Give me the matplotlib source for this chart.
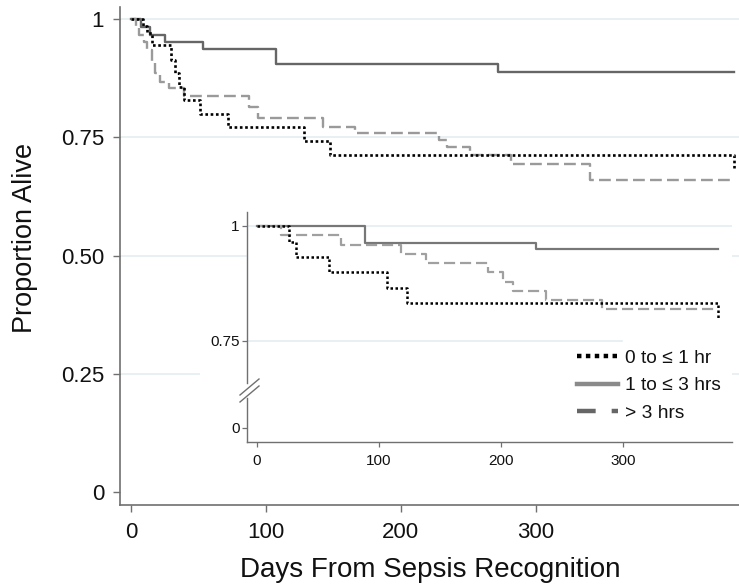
import matplotlib
matplotlib.use("Agg")
import matplotlib.pyplot as plt
from matplotlib.lines import Line2D
from matplotlib.patches import Rectangle
from matplotlib import font_manager as fm

# ---------------- data ----------------
series_labels = ["0 to \u2264 1 hr", "1 to \u2264 3 hrs", "> 3 hrs"]

# main chart: Kaplan-Meier steps (day of step, survival after step)
main_days_a = [0, 8.7, 11.7, 14.9, 29.5, 32.5, 35.6, 39.3, 50.9, 71.6, 127.8, 147.4, 447]
main_surv_a = [1, 0.985, 0.97, 0.945, 0.913, 0.885, 0.857, 0.829, 0.800, 0.771, 0.742, 0.713, 0.685]
main_days_b = [0, 7.4, 13.5, 24.6, 53.2, 107, 272, 447]
main_surv_b = [1, 0.983, 0.966, 0.951, 0.937, 0.905, 0.888, 0.888]
main_days_c = [0, 3.1, 5.6, 9.3, 11.7, 15.4, 17.8, 21.5, 27.6, 39.2, 86.9, 94.2, 142.5,
               165.7, 228, 234, 251.2, 281.7, 340.4, 447]
main_surv_c = [1, 0.985, 0.966, 0.951, 0.934, 0.91, 0.885, 0.867, 0.855, 0.837, 0.814, 0.791,
               0.772, 0.759, 0.744, 0.73, 0.712, 0.693, 0.66, 0.66]

# inset chart
ins_days_a = [0, 26.4, 32.4, 59.4, 107, 123.5, 378]
ins_surv_a = [1, 0.966, 0.932, 0.901, 0.865, 0.833, 0.80]
ins_days_b = [0, 88.9, 229, 378]
ins_surv_b = [1, 0.964, 0.949, 0.949]
ins_days_c = [0, 20.1, 69.3, 118.4, 139, 189.8, 202.1, 210.4, 237.3, 282.8, 378]
ins_surv_c = [1, 0.98, 0.959, 0.939, 0.919, 0.901, 0.879, 0.859, 0.839, 0.819, 0.819]

main_xticks = [0, 100, 200, 300]
main_yticks = [0, 0.25, 0.5, 0.75, 1]
main_yticklabels = ["0", "0.25", "0.50", "0.75", "1"]
ins_xticks = [0, 100, 200, 300]
ins_yticklabels = ["0", "0.75", "1"]

# ---------------- figure ----------------
W, H, DPI = 739, 588, 100
fx = lambda x: x / W
fy = lambda y: 1 - y / H

names = {f.name for f in fm.fontManager.ttflist}
MAIN_FONT = "Liberation Sans" if "Liberation Sans" in names else "DejaVu Sans"
NARROW = "Liberation Sans Narrow" if "Liberation Sans Narrow" in names else MAIN_FONT
plt.rcParams["font.family"] = [MAIN_FONT, "DejaVu Sans"]

AX_COL = "#707070"
GRID_COL = "#e4eef1"
C_A, C_B, C_C = "black", "#666666", "#9a9a9a"

fig = plt.figure(figsize=(W / DPI, H / DPI), dpi=DPI)
fig.patch.set_facecolor("white")

# main axes
ax = fig.add_axes([fx(120), fy(505), fx(739) - fx(120), fy(7) - fy(505)])
ax.set_xlim(-8.5, 451)
ax.set_ylim(-0.0275, 1.0254)
for yv in [0.25, 0.5, 0.75, 1]:
    ax.axhline(yv, color=GRID_COL, lw=1.2, zorder=0)
ax.step(main_days_b, main_surv_b, where="post", color=C_B, lw=1.7, zorder=2)
ax.step(main_days_c, main_surv_c, where="post", color=C_C, lw=1.7,
        dashes=(5, 2.2), zorder=3)
ax.step(main_days_a, main_surv_a, where="post", color=C_A, lw=1.9,
        dashes=(1.0, 1.0), zorder=4)

for s in ["top", "right"]:
    ax.spines[s].set_visible(False)
for s in ["left", "bottom"]:
    ax.spines[s].set_color(AX_COL)
    ax.spines[s].set_linewidth(1.2)
ax.set_xticks(main_xticks)
ax.set_yticks(main_yticks)
ax.set_yticklabels(main_yticklabels)
ax.tick_params(axis="both", direction="out", length=5, width=1, color=AX_COL,
               labelsize=16, labelcolor="#111111")
ax.tick_params(axis="x", pad=7)
ax.tick_params(axis="y", pad=6.5)
ax.set_xlabel("Days From Sepsis Recognition", fontsize=20, color="#111111")
ax.set_ylabel("Proportion Alive", fontsize=19.5, color="#111111")
ax.xaxis.set_label_coords(0.5016, (505 - 557) / 498)
ax.yaxis.label.set_va("center")
ax.yaxis.set_label_coords((25 - 120) / 619, (505 - 237.5) / 498)

# white background behind inset tick labels
fig.patches.append(Rectangle((fx(200), fy(445)), fx(247) - fx(200), fy(300) - fy(445),
                             transform=fig.transFigure, facecolor="white",
                             edgecolor="none", zorder=1))

# inset axes
iL, iR, iT, iB = 247, 732, 212, 442
ax2 = fig.add_axes([fx(iL), fy(iB), fx(iR) - fx(iL), fy(iT) - fy(iB)], zorder=2)
ax2.set_facecolor("white")
ax2.set_xlim(-8.0, 389.6)
ylo, yhi = 0.5304, 1.0304
ax2.set_ylim(ylo, yhi)
zero_pos = 1 - (428 - 226) / 460  # position of the broken-axis "0" tick
ax2.axhline(1, color=GRID_COL, lw=1.2, zorder=0)
ax2.axhline(0.75, xmax=(622 - iL) / (iR - iL), color=GRID_COL, lw=1.2, zorder=0)
ax2.step(ins_days_b, ins_surv_b, where="post", color="#777777", lw=1.6, zorder=2)
ax2.step(ins_days_c, ins_surv_c, where="post", color="#a0a0a0", lw=1.6,
         dashes=(5, 2.2), zorder=3)
ax2.step(ins_days_a, ins_surv_a, where="post", color=C_A, lw=1.8,
         dashes=(1.0, 1.0), zorder=4)

for s in ["top", "right", "left"]:
    ax2.spines[s].set_visible(False)
ax2.spines["bottom"].set_color(AX_COL)
ax2.spines["bottom"].set_linewidth(1.0)
ax2.set_xticks(ins_xticks)
ax2.set_yticks([zero_pos, 0.75, 1])
ax2.set_yticklabels(ins_yticklabels)
ax2.tick_params(axis="both", direction="out", length=3.8, width=0.9, color=AX_COL,
                labelsize=11, labelcolor="#111111")
ax2.tick_params(axis="x", pad=4.5)
ax2.tick_params(axis="y", pad=1.5)
for lab in ax2.get_xticklabels() + ax2.get_yticklabels():
    lab.set_fontfamily([NARROW, MAIN_FONT])

# broken left spine + break marks
hgt = iB - iT
wid = iR - iL
gap_top = (iB - 383) / hgt
gap_bot = (iB - 398) / hgt
ax2.add_line(Line2D([0, 0], [gap_top, 1], transform=ax2.transAxes, color=AX_COL,
                    lw=1.0, clip_on=False))
ax2.add_line(Line2D([0, 0], [0, gap_bot], transform=ax2.transAxes, color=AX_COL,
                    lw=1.0, clip_on=False))
for (x0, y0, x1, y1) in [(240, 395, 259, 379), (240, 402, 259, 386)]:
    ax2.add_line(Line2D([(x0 - iL) / wid, (x1 - iL) / wid],
                        [(iB - y0) / hgt, (iB - y1) / hgt],
                        transform=ax2.transAxes, color=AX_COL, lw=1.0, clip_on=False))

# legend
handles = [
    Line2D([], [], color="black", lw=3.2, dashes=(1.0, 1.0)),
    Line2D([], [], color="#8a8a8a", lw=3.2),
    Line2D([], [], color="#666666", lw=3.2, dashes=(4.2, 3.6)),
]
leg = fig.legend(handles, series_labels, loc="upper left",
                 bbox_to_anchor=(fx(577), fy(349.5)), bbox_transform=fig.transFigure,
                 frameon=False, borderpad=0, borderaxespad=0, fontsize=13.8,
                 handlelength=2.15, handletextpad=0.36, labelspacing=0.53)
for t in leg.get_texts():
    t.set_color("#111111")

fig.savefig("out.png", dpi=DPI, facecolor="white")
